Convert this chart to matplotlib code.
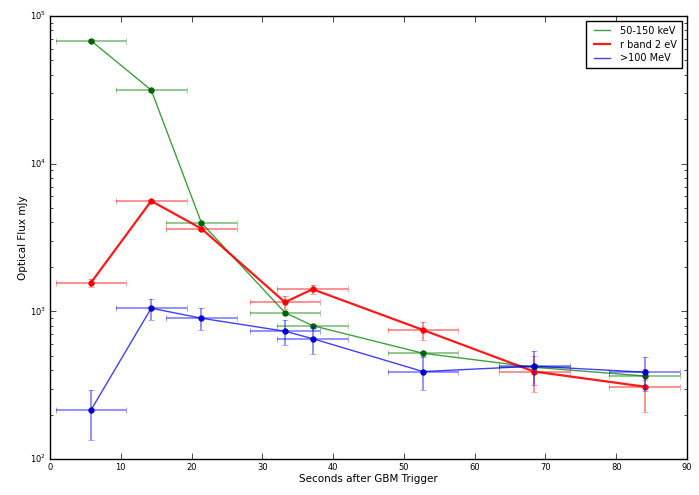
import matplotlib
matplotlib.use('Agg')
import matplotlib.pyplot as plt

plt.style.use('classic')

# time bins (s after GBM trigger) and half-widths
t = [5.8, 14.3, 21.4, 33.2, 37.1, 52.7, 68.4, 84.0]
t_err = [5, 5, 5, 5, 5, 5, 5, 5]

# 50-150 keV
gbm = [68000, 31500, 3970, 980, 800, 520, 418, 365]
gbm_err = [1500, 700, 90, 30, 25, 20, 25, 20]

# r band 2 eV
rband = [1565, 5590, 3630, 1153, 1412, 748, 391, 309]
rband_err = [100, 100, 100, 110, 95, 105, 105, 100]

# >100 MeV
lat = [215, 1050, 898, 733, 653, 391, 425, 387]
lat_err = [80, 170, 150, 140, 140, 100, 110, 100]

fig = plt.figure(figsize=(6.99, 4.95), dpi=100, facecolor='white')
ax = fig.add_axes([50/699, 36/495, 637/699, 443/495])

series = [
    (gbm, gbm_err, 'g', 1.0, '50-150 keV', '#006400'),
    (rband, rband_err, 'r', 1.6, 'r band 2 eV', 'r'),
    (lat, lat_err, 'b', 1.0, '>100 MeV', '#0000cc'),
]
for y, yerr, c, lw, lab, mc in series:
    ax.errorbar(t, y, xerr=t_err, yerr=yerr, fmt='none', ecolor=c,
                alpha=0.5, capsize=2, elinewidth=1.2)
    ax.plot(t, y, '-', color=c, lw=lw, alpha=0.75 if c != 'r' else 0.9, label=lab)
    ax.plot(t, y, 'o', color=mc, mec=mc, ms=4)

ax.set_yscale('log')
ax.set_xlim(0, 90)
ax.set_ylim(100, 100000)
ax.set_xlabel('Seconds after GBM Trigger', fontsize=7.5, labelpad=1)
ax.set_ylabel('Optical Flux mJy', fontsize=7.5, labelpad=1)
ax.tick_params(labelsize=6, pad=3)
leg = ax.legend(loc='upper right', fontsize=7, handlelength=2.2,
                labelspacing=0.4, borderpad=0.5)

fig.savefig('out.png', dpi=100, facecolor='white')
